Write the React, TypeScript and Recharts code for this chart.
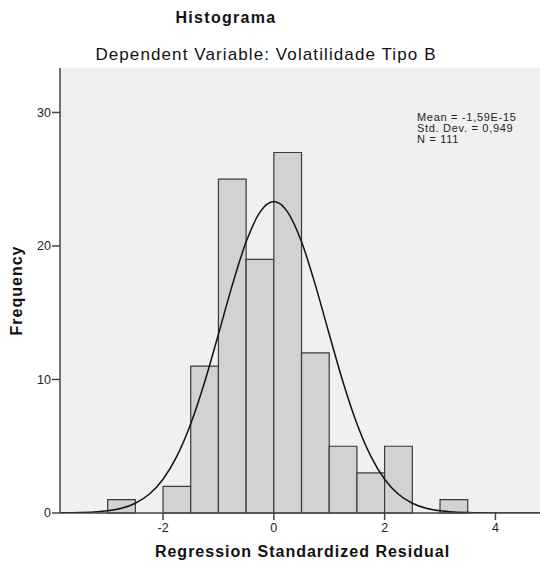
import {
  ComposedChart,
  Line,
  XAxis,
  YAxis,
  CartesianGrid,
  ReferenceArea,
} from "recharts";

// histogram bins (left edge of each 0.5-wide bin) and counts
const binStarts = [-3, -2.5, -2, -1.5, -1, -0.5, 0, 0.5, 1, 1.5, 2, 2.5, 3];
const frequencies = [1, 0, 2, 11, 25, 19, 27, 12, 5, 3, 5, 0, 1];
const binWidth = 0.5;

// normal curve
const curveX = [
  -3.86, -3.75, -3.5, -3.25, -3, -2.75, -2.5, -2.25, -2, -1.75, -1.5, -1.25, -1, -0.75, -0.5, -0.25,
  0, 0.25, 0.5, 0.75, 1, 1.25, 1.5, 1.75, 2, 2.25, 2.5, 2.75, 3, 3.25, 3.5, 3.75, 4, 4.25, 4.5, 4.9,
];
const curveY = [
  0.01, 0.01, 0.03, 0.07, 0.16, 0.35, 0.73, 1.4, 2.53, 4.26, 6.69, 9.8, 13.39, 17.07, 20.31, 22.53,
  23.33, 22.53, 20.31, 17.07, 13.39, 9.8, 6.69, 4.26, 2.53, 1.4, 0.73, 0.35, 0.16, 0.07, 0.03, 0.01, 0, 0, 0, 0,
];

const xTicks = [-2, 0, 2, 4];
const yTicks = [0, 10, 20, 30];
const statsLines = ["Mean = -1,59E-15", "Std. Dev. = 0,949", "N = 111"];

const curveData = curveX.map((x, i) => ({ x, y: curveY[i] }));

const font = "'Liberation Sans', Arial, sans-serif";
const axisColor = "#444";

export default function App() {
  return (
    <div
      style={{
        position: "absolute",
        left: 0,
        top: 0,
        width: 540,
        height: 570,
        overflow: "hidden",
        background: "#fff",
        fontFamily: font,
      }}
    >
      <div style={{ position: "absolute", top: 9, left: 0, width: 452, textAlign: "center", fontSize: 16, fontWeight: "bold", letterSpacing: 1.3, color: "#111" }}>
        Histograma
      </div>
      <div style={{ position: "absolute", top: 45, left: 0, width: 532, textAlign: "center", fontSize: 17, letterSpacing: 1.1, color: "#111" }}>
        Dependent Variable: Volatilidade Tipo B
      </div>

      <ComposedChart
        width={560}
        height={570}
        data={curveData}
        margin={{ top: 68, right: 15, bottom: 0, left: 0 }}
        style={{ position: "absolute", left: 0, top: 0 }}
      >
        <CartesianGrid fill="#f0f0f0" horizontal={false} vertical={false} />
        <XAxis
          xAxisId="top"
          orientation="top"
          type="number"
          dataKey="x"
          domain={[-3.86, 4.895]}
          allowDataOverflow
          tick={false}
          tickLine={false}
          height={0}
          axisLine={{ stroke: axisColor, strokeWidth: 1.5 }}
        />
        <XAxis
          type="number"
          dataKey="x"
          domain={[-3.86, 4.895]}
          allowDataOverflow
          ticks={xTicks}
          height={57}
          tickSize={7}
          tickMargin={3}
          axisLine={{ stroke: axisColor, strokeWidth: 1.5 }}
          tickLine={{ stroke: axisColor, strokeWidth: 1.5 }}
          tick={{ fill: "#222", fontSize: 12.5, fontFamily: font }}
          label={{
            value: "Regression Standardized Residual",
            position: "insideBottom",
            offset: 13,
            style: { fill: "#111", fontSize: 16, fontWeight: "bold", letterSpacing: 1, fontFamily: font },
          }}
        />
        <YAxis
          type="number"
          domain={[0, 33.33]}
          allowDataOverflow
          ticks={yTicks}
          width={60}
          tickSize={8}
          tickMargin={1}
          axisLine={{ stroke: axisColor, strokeWidth: 1.5 }}
          tickLine={{ stroke: axisColor, strokeWidth: 1.5 }}
          tick={{ fill: "#222", fontSize: 12.5, fontFamily: font }}
          label={{
            value: "Frequency",
            angle: -90,
            position: "insideLeft",
            offset: 16,
            style: { fill: "#111", fontSize: 16, fontWeight: "bold", letterSpacing: 1, fontFamily: font, textAnchor: "middle" },
          }}
        />
        {binStarts.map((start, i) =>
          frequencies[i] > 0 ? (
            <ReferenceArea
              key={start}
              x1={start}
              x2={start + binWidth}
              y1={0}
              y2={frequencies[i]}
              fill="#d2d2d2"
              fillOpacity={1}
              stroke="#3a3a3a"
              strokeWidth={1.2}
            />
          ) : null
        )}
        <Line
          type="monotone"
          dataKey="y"
          stroke="#111"
          strokeWidth={1.5}
          dot={false}
          activeDot={false}
          isAnimationActive={false}
        />
      </ComposedChart>

      <div style={{ position: "absolute", left: 417, top: 112, fontSize: 11, letterSpacing: 0.7, lineHeight: "11px", color: "#222" }}>
        {statsLines.map((s) => (
          <div key={s}>{s}</div>
        ))}
      </div>
    </div>
  );
}
